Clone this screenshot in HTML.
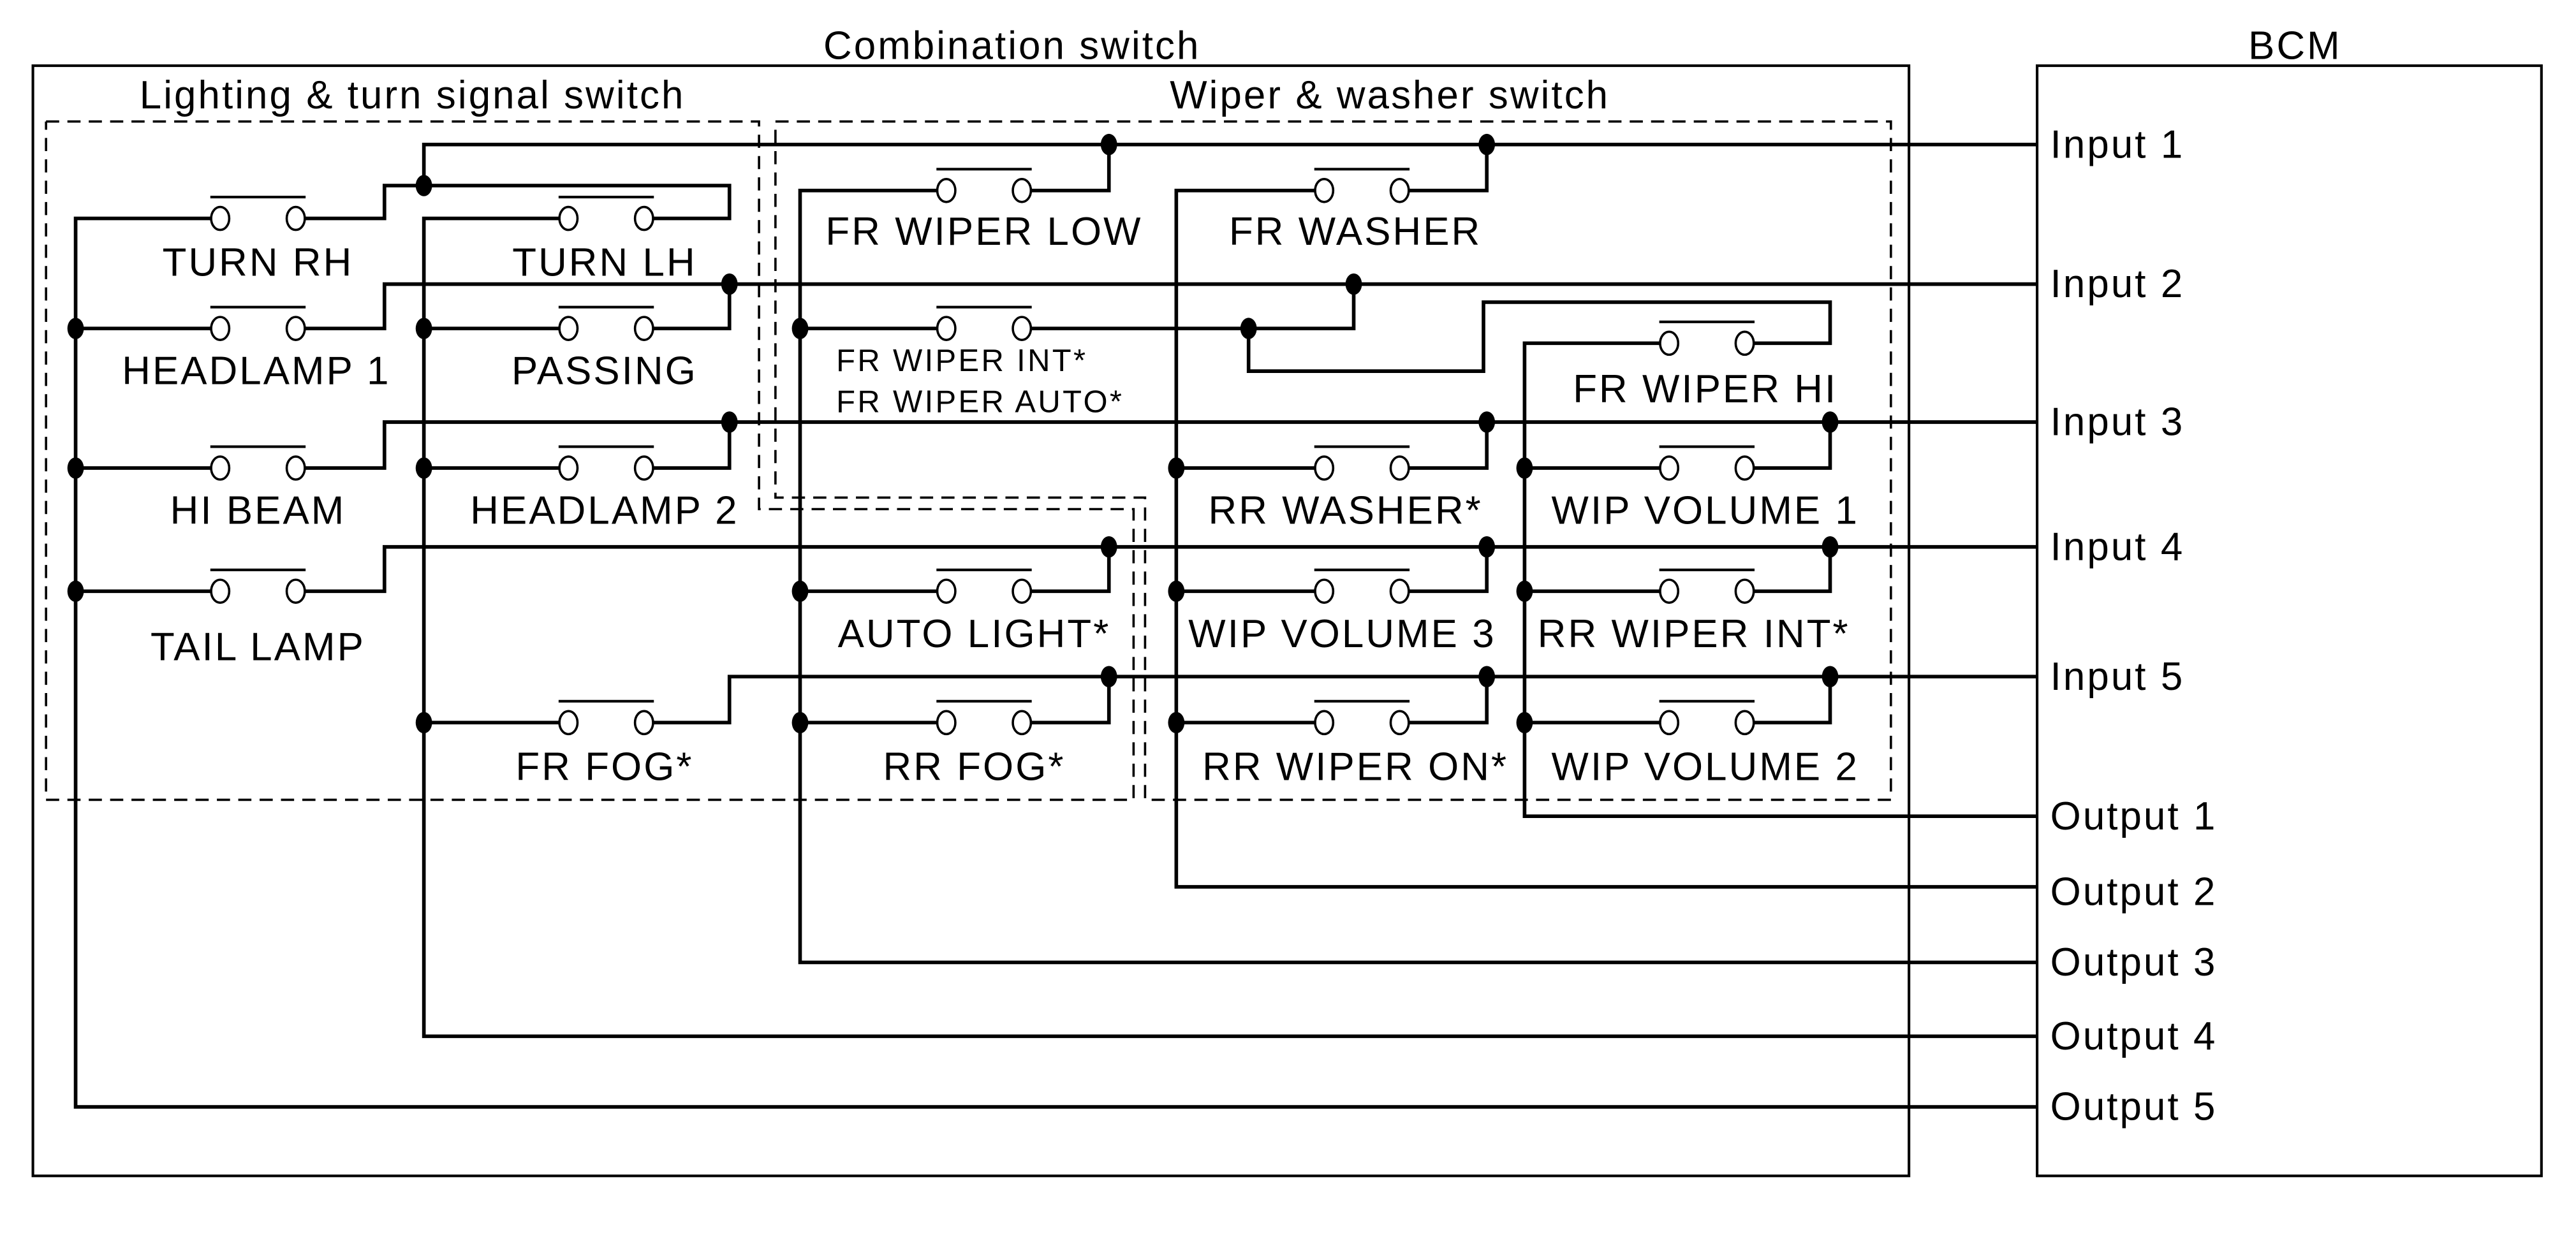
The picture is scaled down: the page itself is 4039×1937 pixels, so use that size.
<!DOCTYPE html>
<html><head><meta charset="utf-8"><style>
html,body{margin:0;padding:0;background:#fff;}
svg{display:block;}
text{font-family:"Liberation Sans",sans-serif;fill:#000;}
</style></head><body>
<svg width="4039" height="1937" viewBox="0 0 1568 752" xmlns="http://www.w3.org/2000/svg">
<defs>
<g id="sw">
<line x1="-6" y1="-13" x2="52" y2="-13" stroke="#000" stroke-width="1.6"/>
<ellipse cx="0" cy="0" rx="5.5" ry="7" fill="#fff" stroke="#000" stroke-width="1.4"/>
<ellipse cx="46" cy="0" rx="5.5" ry="7" fill="#fff" stroke="#000" stroke-width="1.4"/>
</g>
<ellipse id="d" cx="0" cy="0" rx="5" ry="6.5" fill="#000"/>
</defs>
<rect width="1568" height="752" fill="#fff"/>
<rect x="20" y="40" width="1142" height="676" fill="none" stroke="#000" stroke-width="1.6"/>
<rect x="1240" y="40" width="307" height="676" fill="none" stroke="#000" stroke-width="1.6"/>
<g fill="none" stroke="#000" stroke-width="1.4" stroke-dasharray="8,5">
<polyline points="28,74 462,74 462,310 690,310 690,487 28,487 28,74"/>
<polyline points="472,74 1151,74 1151,487 697,487 697,303 472,303 472,74"/>
</g>
<g font-size="24" letter-spacing="1.2" text-anchor="middle">
<text x="616" y="36">Combination switch</text>
<text x="1397" y="36">BCM</text>
<text x="251" y="66">Lighting &amp; turn signal switch</text>
<text x="846" y="66">Wiper &amp; washer switch</text>
</g>
<g fill="none" stroke="#000" stroke-width="2.2">
<polyline points="258,113 258,88 1240,88"/>
<line x1="444" y1="173" x2="1240" y2="173"/>
<line x1="444" y1="257" x2="1240" y2="257"/>
<line x1="675" y1="333" x2="1240" y2="333"/>
<line x1="675" y1="412" x2="1240" y2="412"/>
<polyline points="134,133 46,133 46,674 1240,674"/>
<polyline points="346,133 258,133 258,631 1240,631"/>
<polyline points="576,116 487,116 487,586 1240,586"/>
<polyline points="806,116 716,116 716,540 1240,540"/>
<polyline points="1016,209 928,209 928,497 1240,497"/>
<polyline points="180,133 234,133 234,113 444,113 444,133 392,133"/>
<polyline points="46,200 134,200"/><polyline points="180,200 234,200 234,173 444,173"/>
<polyline points="258,200 346,200"/><polyline points="392,200 444,200 444,173"/>
<polyline points="46,285 134,285"/><polyline points="180,285 234,285 234,257 444,257"/>
<polyline points="258,285 346,285"/><polyline points="392,285 444,285 444,257"/>
<polyline points="46,360 134,360"/><polyline points="180,360 234,360 234,333 675,333"/>
<polyline points="258,440 346,440"/><polyline points="392,440 444,440 444,412 675,412"/>
<polyline points="622,116 675,116 675,88"/>
<polyline points="852,116 905,116 905,88"/>
<polyline points="487,200 576,200"/><polyline points="622,200 824,200 824,173"/>
<polyline points="760,200 760,226 903,226 903,184 1114,184 1114,209 1062,209"/>
<polyline points="716,285 806,285"/><polyline points="852,285 905,285 905,257"/>
<polyline points="928,285 1016,285"/><polyline points="1062,285 1114,285 1114,257"/>
<polyline points="487,360 576,360"/><polyline points="622,360 675,360 675,333"/>
<polyline points="716,360 806,360"/><polyline points="852,360 905,360 905,333"/>
<polyline points="928,360 1016,360"/><polyline points="1062,360 1114,360 1114,333"/>
<polyline points="487,440 576,440"/><polyline points="622,440 675,440 675,412"/>
<polyline points="716,440 806,440"/><polyline points="852,440 905,440 905,412"/>
<polyline points="928,440 1016,440"/><polyline points="1062,440 1114,440 1114,412"/>
</g>
<use href="#sw" x="134" y="133"/><use href="#sw" x="346" y="133"/>
<use href="#sw" x="134" y="200"/><use href="#sw" x="346" y="200"/>
<use href="#sw" x="134" y="285"/><use href="#sw" x="346" y="285"/>
<use href="#sw" x="134" y="360"/><use href="#sw" x="346" y="440"/>
<use href="#sw" x="576" y="116"/><use href="#sw" x="806" y="116"/>
<use href="#sw" x="576" y="200"/><use href="#sw" x="1016" y="209"/>
<use href="#sw" x="806" y="285"/><use href="#sw" x="1016" y="285"/>
<use href="#sw" x="576" y="360"/><use href="#sw" x="806" y="360"/><use href="#sw" x="1016" y="360"/>
<use href="#sw" x="576" y="440"/><use href="#sw" x="806" y="440"/><use href="#sw" x="1016" y="440"/>
<use href="#d" x="258" y="113"/>
<use href="#d" x="444" y="173"/><use href="#d" x="444" y="257"/>
<use href="#d" x="46" y="200"/><use href="#d" x="258" y="200"/>
<use href="#d" x="46" y="285"/><use href="#d" x="258" y="285"/>
<use href="#d" x="46" y="360"/><use href="#d" x="258" y="440"/>
<use href="#d" x="675" y="88"/><use href="#d" x="905" y="88"/>
<use href="#d" x="487" y="200"/><use href="#d" x="760" y="200"/><use href="#d" x="824" y="173"/>
<use href="#d" x="716" y="285"/><use href="#d" x="905" y="257"/><use href="#d" x="928" y="285"/><use href="#d" x="1114" y="257"/>
<use href="#d" x="487" y="360"/><use href="#d" x="675" y="333"/><use href="#d" x="716" y="360"/><use href="#d" x="905" y="333"/><use href="#d" x="928" y="360"/><use href="#d" x="1114" y="333"/>
<use href="#d" x="487" y="440"/><use href="#d" x="675" y="412"/><use href="#d" x="716" y="440"/><use href="#d" x="905" y="412"/><use href="#d" x="928" y="440"/><use href="#d" x="1114" y="412"/>
<g font-size="24" letter-spacing="1.2" text-anchor="middle">
<text x="157" y="168">TURN RH</text>
<text x="368" y="168">TURN LH</text>
<text x="156" y="234">HEADLAMP 1</text>
<text x="368" y="234">PASSING</text>
<text x="157" y="319">HI BEAM</text>
<text x="368" y="319">HEADLAMP 2</text>
<text x="157" y="402">TAIL LAMP</text>
<text x="368" y="475">FR FOG*</text>
<text x="599" y="149">FR WIPER LOW</text>
<text x="825" y="149">FR WASHER</text>
<text x="1038" y="245">FR WIPER HI</text>
<text x="819" y="319">RR WASHER*</text>
<text x="1038" y="319">WIP VOLUME 1</text>
<text x="593" y="394">AUTO LIGHT*</text>
<text x="817" y="394">WIP VOLUME 3</text>
<text x="1031" y="394">RR WIPER INT*</text>
<text x="593" y="475">RR FOG*</text>
<text x="825" y="475">RR WIPER ON*</text>
<text x="1038" y="475">WIP VOLUME 2</text>
</g>
<g font-size="19" letter-spacing="1.3">
<text x="509" y="226">FR WIPER INT*</text>
<text x="509" y="251">FR WIPER AUTO*</text>
</g>
<g font-size="24" letter-spacing="1.2">
<text x="1248" y="96">Input 1</text>
<text x="1248" y="181">Input 2</text>
<text x="1248" y="265">Input 3</text>
<text x="1248" y="341">Input 4</text>
<text x="1248" y="420">Input 5</text>
<text x="1248" y="505">Output 1</text>
<text x="1248" y="551">Output 2</text>
<text x="1248" y="594">Output 3</text>
<text x="1248" y="639">Output 4</text>
<text x="1248" y="682">Output 5</text>
</g>
</svg>
</body></html>
